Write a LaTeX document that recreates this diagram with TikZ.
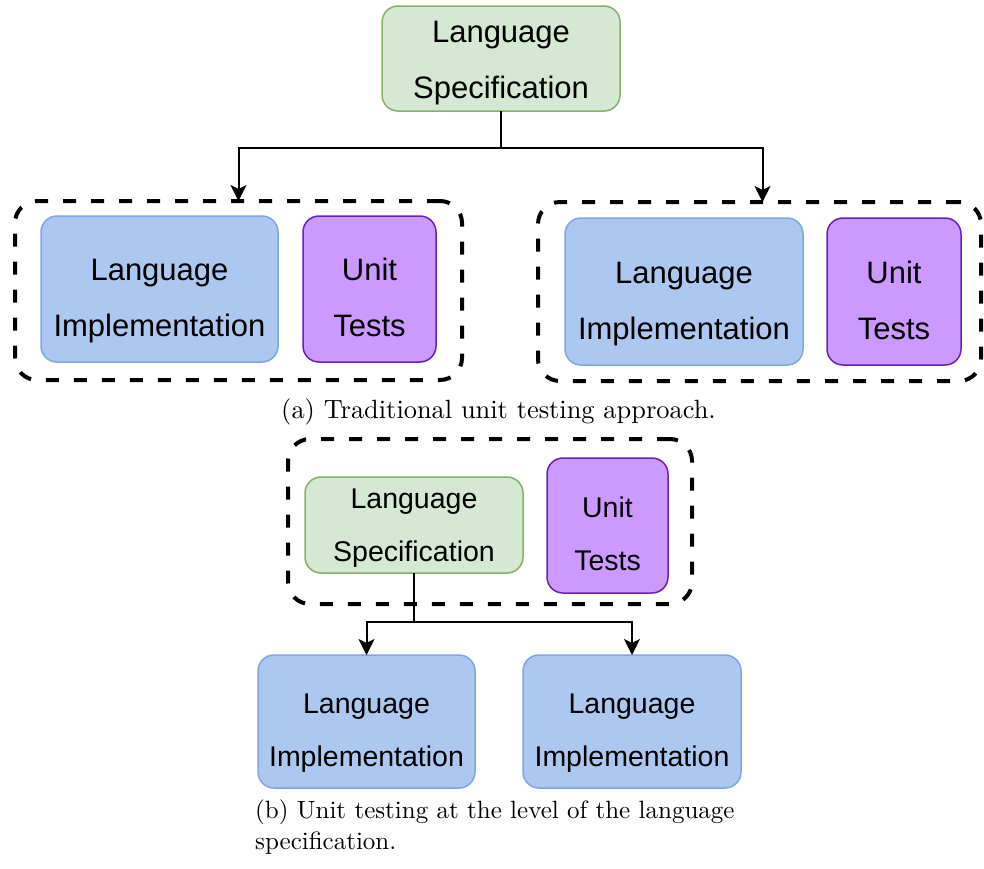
\documentclass[tikz,border=0pt]{standalone}
\usepackage{fontspec}
\newfontfamily\boxfont{Liberation Sans}
\newfontfamily\capserif[Extension=.otf]{lmroman10-regular}
\usetikzlibrary{arrows.meta}

\definecolor{specfill}{HTML}{D5E8D4}
\definecolor{specline}{HTML}{82B366}
\definecolor{implfill}{HTML}{ADC8F0}
\definecolor{implline}{HTML}{7EA6E0}
\definecolor{testfill}{HTML}{CC99FF}
\definecolor{testline}{HTML}{6A1FBF}

\tikzset{
  box/.style={rounded corners=16pt, line width=1.5pt, inner sep=0pt, outer sep=0pt},
  specbox/.style={box, draw=specline, fill=specfill},
  implbox/.style={box, draw=implline, fill=implfill},
  testbox/.style={box, draw=testline, fill=testfill},
  grpbox/.style={draw=black, line width=4pt, dash pattern=on 13pt off 15pt,
                 rounded corners=22pt, inner sep=0pt, outer sep=0pt},
  lblbig/.style={font=\boxfont\fontsize{31}{56}\selectfont, align=center, inner sep=0pt},
  lblsmall/.style={font=\boxfont\fontsize{28.5}{53}\selectfont, align=center, inner sep=0pt},
  link/.style={line width=2pt},
  flow/.style={line width=2pt, -{Stealth[length=16pt, width=16pt, inset=4pt]}},
  capfont/.style={font=\capserif\fontsize{26.4}{31.4}\selectfont, inner sep=0pt},
  capfontb/.style={font=\capserif\fontsize{25}{31}\selectfont, inner sep=0pt}
}

\begin{document}
\begin{tikzpicture}[x=1pt, y=-1pt]
\useasboundingbox (0,0) rectangle (984,868);

% ---------- (a) traditional approach ----------
\node[specbox, minimum width=238pt, minimum height=105pt] (specA) at (501,58.5) {};
\node[lblbig] (specA-t) at (501,58.8) {Language\strut\\Specification\strut};

\node[grpbox, minimum width=447pt, minimum height=179pt] (grpL) at (238.5,290.5) {};
\node[implbox, minimum width=237pt, minimum height=146pt] (implL) at (159.5,289) {};
\node[lblbig] (implL-t) at (159.5,297.3) {Language\strut\\Implementation\strut};
\node[testbox, minimum width=133pt, minimum height=146pt] (testL) at (369.5,289) {};
\node[lblbig] (testL-t) at (369.5,297.3) {Unit\strut\\Tests\strut};

\node[grpbox, minimum width=443pt, minimum height=179pt] (grpR) at (759.5,291.5) {};
\node[implbox, minimum width=238pt, minimum height=147pt] (implR) at (684,291.5) {};
\node[lblbig] (implR-t) at (684,300.3) {Language\strut\\Implementation\strut};
\node[testbox, minimum width=134pt, minimum height=147pt] (testR) at (894,291.5) {};
\node[lblbig] (testR-t) at (894,300.3) {Unit\strut\\Tests\strut};

\coordinate (splitA) at (501,148);
\draw[link] (specA) -- (splitA);
\draw[flow] (splitA) -| (grpL.north);
\draw[flow] (splitA) -| ([xshift=3pt]grpR.north);

\node[capfont, anchor=base] (capA) at (498.5,418) {(a) Traditional unit testing approach.};

% ---------- (b) tests at the specification level ----------
\node[grpbox, minimum width=404pt, minimum height=165pt] (grpB) at (490,521.5) {};
\node[specbox, minimum width=218pt, minimum height=96pt] (specB) at (414,525) {};
\node[lblsmall] (specB-t) at (414,523.9) {Language\strut\\Specification\strut};
\node[testbox, minimum width=121pt, minimum height=135pt] (testB) at (607.5,525.5) {};
\node[lblsmall] (testB-t) at (607.5,533.4) {Unit\strut\\Tests\strut};

\node[implbox, minimum width=217pt, minimum height=133pt] (implBL) at (366.5,721.5) {};
\node[lblsmall] (implBL-t) at (366.5,729.4) {Language\strut\\Implementation\strut};
\node[implbox, minimum width=218pt, minimum height=133pt] (implBR) at (632,721.5) {};
\node[lblsmall] (implBR-t) at (632,729.4) {Language\strut\\Implementation\strut};

\coordinate (splitB) at (414,622);
\draw[link] (specB) -- (splitB);
\draw[flow] (splitB) -| (implBL.north);
\draw[flow] (splitB) -| (implBR.north);

\node[capfontb, anchor=north west, align=left] (capB) at (255,800)
  {(b) Unit testing at the level of the language\\specification.};
\end{tikzpicture}
\end{document}
